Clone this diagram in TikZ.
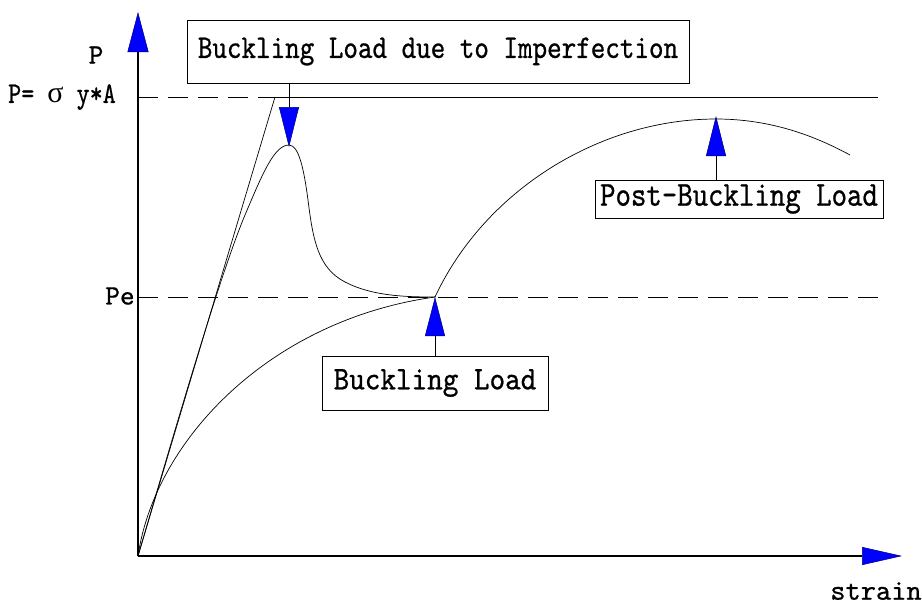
\documentclass[tikz,border=0pt]{standalone}
\usepackage{fontspec}
\usetikzlibrary{arrows.meta}
% monospaced label face, slightly heavier than the regular cut
\newfontfamily\lblfont{lmmono10-regular.otf}[FakeBold=0.7]
\newfontfamily\greekfont{Liberation Serif}
\begin{document}
\begin{tikzpicture}[x=1pt,y=-1pt,
  every path/.style={line width=0.8pt},
  mono/.style 2 args={font=\lblfont\fontsize{#1}{#1}\selectfont\addfontfeatures{FakeStretch=#2}},
  labelbox/.style={draw, line width=0.9pt, inner sep=0pt, align=center},
  bluetip/.style={-{Triangle[length=#1,width=20pt,fill=blue,color=blue!45!black,line width=0.5pt]}},
  guide/.style={dash pattern=on 20pt off 10pt, line width=0.8pt},
  curve/.style={line width=0.7pt}]
\useasboundingbox (0,0) rectangle (922,606);
\fill[white] (0,0) rectangle (922,606);

% axes
\coordinate (O) at (138,556);
\coordinate (ytip) at (138,12);
\coordinate (xtip) at (902,556);
\draw[line width=1.1pt,-{Triangle[length=40pt,width=21pt,fill=blue,color=blue!45!black,line width=0.5pt]}] (O) -- (ytip);
\draw[line width=1.1pt,-{Triangle[length=40pt,width=18pt,fill=blue,color=blue!45!black,line width=0.5pt]}] (O) -- (xtip);

% axis labels
\node[mono={28}{1.0}] (P) at (96,55) {P};
\node[mono={30}{0.83}] (Py) at (62,97) {P= {\greekfont σ} y*A};
\node[mono={28}{1.0}] (Pe) at (120,296) {Pe};
\node[mono={29}{1.0}] (strain) at (876,591) {strain};

% yield level and Euler level
\coordinate (ya) at (138,97);
\coordinate (yb) at (275,97);
\coordinate (yc) at (878,97);
\draw[guide] (ya) -- (yb);
\draw[curve] (yb) -- (yc);
\coordinate (pea) at (138,297);
\coordinate (peb) at (878,297);
\draw[guide] (pea) -- (peb);

% elastic line
\draw[curve] (O) -- (yb);

% imperfect column response
\coordinate (peak) at (289,145);
\coordinate (bif) at (435,297);
\draw[curve] (O) .. controls (185,395) and (222,270) .. (245,215)
  .. controls (262,175) and (274,145) .. (peak)
  .. controls (299,145) and (304,170) .. (308,200)
  .. controls (313,240) and (318,268) .. (345,282)
  .. controls (372,296) and (405,297) .. (bif);

% perfect column response and post-buckling
\coordinate (top) at (716,119);
\coordinate (tail) at (850,155);
\draw[curve] (O) .. controls (155,440) and (270,320) .. (bif)
  .. controls (485,190) and (600,119) .. (top)
  .. controls (771,119) and (815,136) .. (tail);

% annotation boxes
\node[labelbox, mono={33}{0.84}, minimum width=502pt, minimum height=63pt] (imp) at (438,51.5) {Buckling Load due to Imperfection};
\node[labelbox, mono={35}{0.84}, minimum width=288pt, minimum height=38pt] (post) at (739,199) {Post-Buckling Load};
\node[labelbox, mono={33}{0.9}, minimum width=226pt, minimum height=54pt] (buck) at (435,383) {Buckling Load};

\draw[bluetip=40pt] (imp.south -| peak) -- ([yshift=-2pt]peak);
\draw[bluetip=39pt] (buck.north) -- (bif);
\draw[bluetip=40pt] (post.north -| top) -- ([yshift=3pt]top);
\end{tikzpicture}
\end{document}
